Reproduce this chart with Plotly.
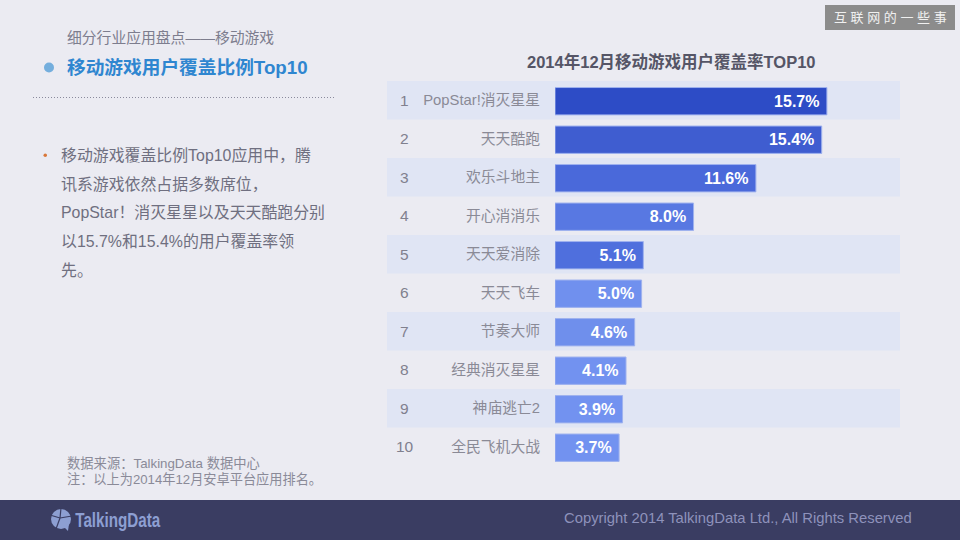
import plotly.graph_objects as go

W = 960
H = 540
CN_FONT = "Liberation Sans, Noto Sans CJK SC, sans-serif"

# chart data
ranks = [1, 2, 3, 4, 5, 6, 7, 8, 9, 10]
apps = ['PopStar!消灭星星', '天天酷跑', '欢乐斗地主', '开心消消乐', '天天爱消除',
        '天天飞车', '节奏大师', '经典消灭星星', '神庙逃亡2', '全民飞机大战']
coverage = [15.7, 15.4, 11.6, 8.0, 5.1, 5.0, 4.6, 4.1, 3.9, 3.7]
bar_colors = ['#2d4cc6', '#3f5dd0', '#4a69da', '#5878e2', '#4f6fdd',
              '#7090ee', '#6f8fec', '#7292f0', '#7292f0', '#7292f0']

body_lines = ['移动游戏覆盖比例Top10应用中，腾', '讯系游戏依然占据多数席位，',
              'PopStar！消灭星星以及天天酷跑分别', '以15.7%和15.4%的用户覆盖率领', '先。']
body_y = [155, 185, 212, 241, 270]


def px_x(x):
    return x / W


def px_y(y):
    return 1 - y / H


def label(x, y, text, size, color, anchor='left', bold=False, family=CN_FONT):
    if bold:
        text = '<b>' + text + '</b>'
    return dict(x=px_x(x), y=px_y(y), xref='paper', yref='paper', text=text, showarrow=False,
                xanchor=anchor, yanchor='middle', borderpad=0, borderwidth=0,
                font=dict(size=size, color=color, family=family))


fig = go.Figure()

fig.add_trace(go.Bar(
    x=coverage,
    y=apps,
    orientation='h',
    width=0.71,
    offset=-0.33,
    marker=dict(color=bar_colors, line=dict(color='#9fb2ee', width=1)),
    text=['%.1f%%' % v for v in coverage],
    textposition='inside',
    insidetextanchor='end',
    textangle=0,
    textfont=dict(color='#ffffff', size=16, family='Liberation Sans'),
    texttemplate='<b>%{text}</b>\u00a0',
    cliponaxis=False,
    hoverinfo='skip',
))

shapes = []
# alternating bands behind the rows
for i, app in enumerate(apps):
    if i % 2 == 0:
        shapes.append(dict(type='rect', xref='paper', yref='y', layer='below',
                           x0=px_x(387), x1=px_x(900), y0=i - 0.5, y1=i + 0.5,
                           fillcolor='#e0e5f4', line_width=0))
# footer, watermark, divider and bullets
shapes.append(dict(type='rect', xref='paper', yref='paper', x0=0, x1=1, y0=0, y1=px_y(500),
                   fillcolor='#3a3d62', line_width=0, layer='below'))
shapes.append(dict(type='rect', xref='paper', yref='paper', x0=px_x(825), x1=px_x(955),
                   y0=px_y(30), y1=px_y(5), fillcolor='#8c8c8c', line_width=0, layer='below'))
shapes.append(dict(type='line', xref='paper', yref='paper', x0=px_x(33), x1=px_x(334),
                   y0=px_y(97.5), y1=px_y(97.5), line=dict(color='#8a8a9c', width=1, dash='1px,2px')))
shapes.append(dict(type='circle', xref='paper', yref='paper', x0=px_x(44), x1=px_x(54),
                   y0=px_y(72.5), y1=px_y(62.5), fillcolor='#74aedd', line_width=0))
shapes.append(dict(type='circle', xref='paper', yref='paper', x0=px_x(43.5), x1=px_x(47),
                   y0=px_y(157), y1=px_y(153.5), fillcolor='#d9773a', line_width=0))
# logo mark
shapes.append(dict(type='circle', xref='paper', yref='paper', x0=px_x(51), x1=px_x(71),
                   y0=px_y(529), y1=px_y(509), fillcolor='#8d9fd2', line_width=0))
shapes.append(dict(type='path', xref='paper', yref='paper', line_width=0, fillcolor='#8d9fd2',
                   path='M %f %f L %f %f L %f %f Z' % (px_x(64), px_y(527), px_x(68), px_y(531), px_x(69), px_y(524))))
for x0, y0, x1, y1 in [(60, 518, 61, 508), (60, 518, 72, 516), (60, 518, 56, 529), (60, 518, 50, 515)]:
    shapes.append(dict(type='line', xref='paper', yref='paper', x0=px_x(x0), x1=px_x(x1),
                       y0=px_y(y0), y1=px_y(y1), line=dict(color='#3a3d62', width=1.2)))

annotations = [
    label(67, 37, '细分行业应用盘点——移动游戏', 14.8, '#7d7d8e'),
    label(67, 68, '移动游戏用户覆盖比例Top10', 18.7, '#2f86d0', bold=True),
    label(671, 61.5, '2014年12月移动游戏用户覆盖率TOP10', 16.5, '#555566', anchor='center', bold=True),
    label(67, 463, '数据来源：TalkingData 数据中心', 13.3, '#8a8a98'),
    label(67, 479, '注：以上为2014年12月安卓平台应用排名。', 13.2, '#8a8a98'),
    label(564, 518, 'Copyright 2014 TalkingData Ltd., All Rights Reserved', 14.8, '#8e92bb'),
    # x is left of the visible start because the wordmark gets squeezed below
    label(59, 519, 'TalkingData', 21, '#8d9fd2', bold=True, family='Liberation Sans'),
    label(890, 18, '互 联 网 的 一 些 事', 13, '#f0f0f0', anchor='center'),
]
for line, y in zip(body_lines, body_y):
    annotations.append(label(61, y, line, 15.9, '#6f6f80'))
for rank, app in zip(ranks, apps):
    annotations.append(dict(x=px_x(404.5), y=app, xref='paper', yref='y', text=str(rank), showarrow=False,
                            xanchor='center', yanchor='middle',
                            font=dict(size=15.5, color='#80808e', family='Liberation Sans')))

fig.update_layout(
    width=W,
    height=H,
    margin=dict(l=0, r=0, t=0, b=0),
    paper_bgcolor='#ebebf2',
    plot_bgcolor='rgba(0,0,0,0)',
    showlegend=False,
    shapes=shapes,
    annotations=annotations,
    xaxis=dict(domain=[px_x(555), px_x(900)], range=[0, 345 / 17.32], visible=False, fixedrange=True),
    yaxis=dict(domain=[px_y(466), px_y(81)], autorange='reversed', showline=False, showgrid=False,
               zeroline=False, ticks='', ticklabelstandoff=14,
               tickfont=dict(size=14.8, color='#8a8a96', family=CN_FONT)),
)

# squeeze the logo wordmark to the condensed width of the original
squeeze_logo = """
document.body.style.margin='0';
document.querySelectorAll('.annotation-text').forEach(function (t) {
  if (t.textContent === 'TalkingData') {
    t.setAttribute('textLength', '85');
    t.setAttribute('lengthAdjust', 'spacingAndGlyphs');
  }
});
"""

fig.write_html("out.html", config={'displayModeBar': False}, post_script=squeeze_logo)
